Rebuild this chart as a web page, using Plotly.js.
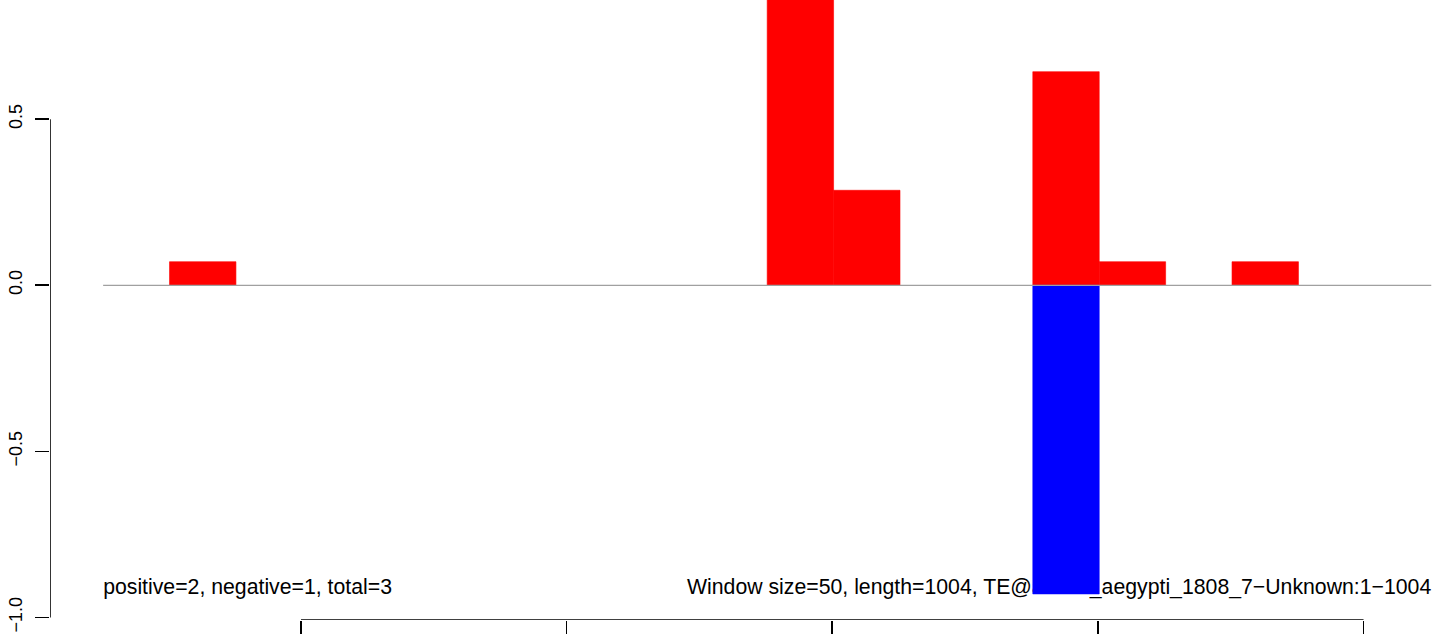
<!DOCTYPE html>
<html>
<head>
<meta charset="utf-8">
<script src="https://cdn.plot.ly/plotly-3.0.1.min.js"></script>
<style>html,body{margin:0;padding:0;background:#fff;}#chart{width:1444px;height:634px;}</style>
</head>
<body>
<div id="chart"></div>
<script>
// ---- data ----
const windowSize = 50;
const windowStarts = [51, 101, 151, 201, 251, 301, 351, 401, 451, 501, 551, 601, 651, 701, 751, 801, 851, 901, 951, 1001];
const positiveValues = [0, 0.071, 0, 0, 0, 0, 0, 0, 0, 0, 1.0, 0.286, 0, 0, 0.643, 0.071, 0, 0.071, 0, 0];
const negativeValues = [0, 0, 0, 0, 0, 0, 0, 0, 0, 0, 0, 0, 0, 0, -0.929, 0, 0, 0, 0, 0];
const yTicks = [-1.0, -0.5, 0.0, 0.5];
const yTickLabels = ["\u22121.0", "\u22120.5", "0.0", "0.5"];
const xTicks = [200, 400, 600, 800, 1000];
const leftLabel = "positive=2, negative=1, total=3";
const rightLabel = "Window size=50, length=1004, TE@aedes_aegypti_1808_7\u2212Unknown:1\u22121004";

// ---- layout constants ----
const xRange = [11, 1060.6];
const yRange = [-1.0075, 0.8588];
const labelY = -0.914;
const font = "Liberation Sans, Arial, Helvetica, sans-serif";

const centers = windowStarts.map(s => s + windowSize / 2);
const lineStart = windowStarts[0];
const lineEnd = windowStarts[windowStarts.length - 1] + windowSize;
const nz = arr => arr.map(v => (v === 0 ? null : v));

const traces = [
  // text on base subplot (underneath bars)
  {type: 'scatter', mode: 'text', x: [lineStart], y: [labelY], text: [leftLabel],
   textposition: 'middle right', textfont: {family: font, size: 21.25, color: '#000'},
   xaxis: 'x', yaxis: 'y', cliponaxis: false, hoverinfo: 'skip', showlegend: false},
  {type: 'scatter', mode: 'text', x: [lineEnd], y: [labelY], text: [rightLabel],
   textposition: 'middle left', textfont: {family: font, size: 21.25, color: '#000'},
   xaxis: 'x', yaxis: 'y', cliponaxis: false, hoverinfo: 'skip', showlegend: false},
  // axis lines drawn R-style (first tick to last tick)
  {type: 'scatter', mode: 'lines', x: [xTicks[0], xTicks[xTicks.length - 1]], y: [yRange[0], yRange[0]],
   line: {color: '#000', width: 1.6}, xaxis: 'x', yaxis: 'y', cliponaxis: false, hoverinfo: 'skip', showlegend: false},
  {type: 'scatter', mode: 'lines', x: [xRange[0], xRange[0]], y: [yTicks[0], yTicks[yTicks.length - 1]],
   line: {color: '#000', width: 1.6}, xaxis: 'x', yaxis: 'y', cliponaxis: false, hoverinfo: 'skip', showlegend: false},
  // bars on overlay subplot
  {type: 'bar', x: centers, y: nz(positiveValues), width: windowSize, marker: {color: '#FF0000', line: {color: '#FF0000', width: 0.6}},
   xaxis: 'x2', yaxis: 'y2', hoverinfo: 'x+y', showlegend: false},
  {type: 'bar', x: centers, y: nz(negativeValues), width: windowSize, marker: {color: '#0000FF', line: {color: '#0000FF', width: 0.6}},
   xaxis: 'x2', yaxis: 'y2', hoverinfo: 'x+y', showlegend: false},
  // zero line
  {type: 'scatter', mode: 'lines', x: [lineStart, lineEnd], y: [0, 0], line: {color: '#a0a0a0', width: 1.2},
   xaxis: 'x2', yaxis: 'y2', hoverinfo: 'skip', showlegend: false}
];

const layout = {
  width: 1444, height: 634,
  margin: {l: 50, r: 0, t: 0, b: 14, pad: 0},
  paper_bgcolor: '#fff', plot_bgcolor: 'rgba(0,0,0,0)',
  showlegend: false,
  barmode: 'overlay',
  xaxis: {range: xRange, showgrid: false, zeroline: false, showline: false,
          tickmode: 'array', tickvals: xTicks, ticks: 'outside', ticklen: 14, tickwidth: 1.6, tickcolor: '#000',
          showticklabels: false, fixedrange: true},
  yaxis: {range: yRange, showgrid: false, zeroline: false, showline: false,
          tickmode: 'array', tickvals: yTicks, ticktext: yTickLabels, ticks: 'outside', ticklen: 14, tickwidth: 1.6, tickcolor: '#000',
          tickangle: -90, ticklabelstandoff: 6, tickfont: {family: font, size: 18, color: '#000'}, fixedrange: true},
  xaxis2: {range: xRange, overlaying: 'x', visible: false, fixedrange: true},
  yaxis2: {range: yRange, overlaying: 'y', visible: false, fixedrange: true}
};

Plotly.newPlot('chart', traces, layout, {displayModeBar: false, staticPlot: true});
</script>
</body>
</html>
